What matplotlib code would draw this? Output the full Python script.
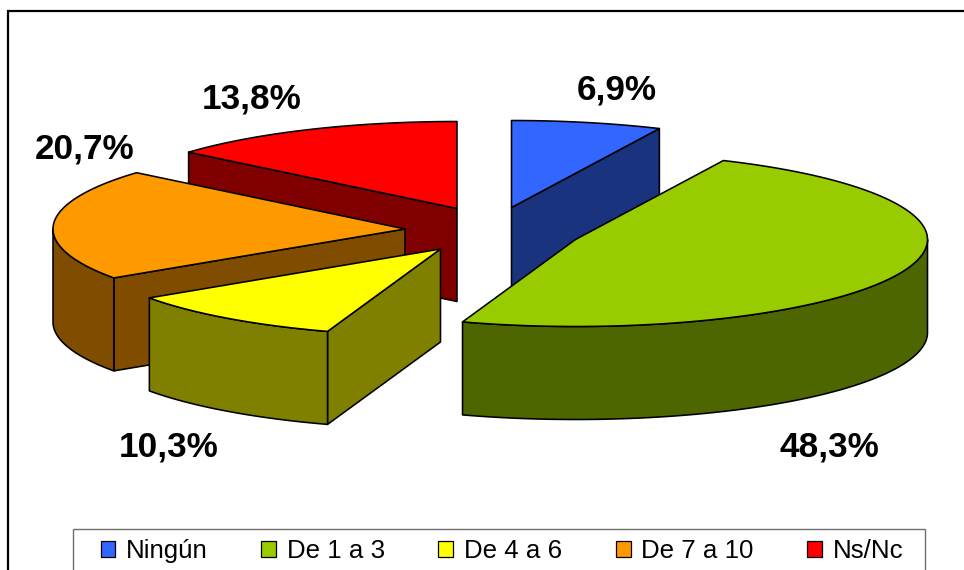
import numpy as np
import matplotlib
matplotlib.use("Agg")
import matplotlib.pyplot as plt
from matplotlib.patches import Polygon, Rectangle, Patch

# ---- data ----
categories = ["Ningún", "De 1 a 3", "De 4 a 6", "De 7 a 10", "Ns/Nc"]
values = [6.9, 48.3, 10.3, 20.7, 13.8]

# ---- styles ----
top_colors = ["#3366FF", "#99CC00", "#FFFF00", "#FF9900", "#FF0000"]
side_colors = ["#1A337F", "#4D6600", "#808000", "#804D00", "#800000"]
apexes = [(511.5, 207.5), (575.5, 239.5), (440.5, 249), (405, 229), (457, 208.5)]
label_pos = [(617, 90), (829, 447), (169, 447), (85, 149), (252, 99)]
RX, RY, DEPTH = 352, 87, 93
LW = 1.15

plt.rcParams["font.family"] = ["Liberation Sans", "DejaVu Sans"]
fig = plt.figure(figsize=(9.64, 5.70), dpi=100, facecolor="white")
ax = fig.add_axes([0, 0, 1, 1])
ax.set_xlim(0, 964)
ax.set_ylim(570, 0)
ax.axis("off")

# outer frame (runs off the right and bottom edges)
ax.add_patch(Rectangle((8, 11), 1000, 600, fc="white", ec="black", lw=1.6, zorder=0))


def rim(apex, a0, a1):
    t = np.radians(np.linspace(a0, a1, 200))
    return np.column_stack([apex[0] + RX * np.sin(t), apex[1] - RY * np.cos(t)])


cum = np.concatenate([[0], np.cumsum(values)]) / np.sum(values) * 360
draw_order = [4, 0, 3, 2, 1]

for z, i in enumerate(draw_order):
    a0, a1 = cum[i], cum[i + 1]
    apex = apexes[i]
    zo = 2 + z
    down = np.array([0, DEPTH])
    p = np.array(apex, dtype=float)

    # cut walls facing the viewer: leading wall if sin(a1) > 0, trailing wall if sin(a0) < 0
    walls = []
    if np.sin(np.radians(a1)) > 1e-9:
        walls.append(a1)
    if np.sin(np.radians(a0)) < -1e-9:
        walls.append(a0)
    for ang in walls:
        edge = rim(apex, ang, ang)[0]
        ax.add_patch(Polygon([p, edge, edge + down, p + down], closed=True,
                             fc=side_colors[i], ec="black", lw=LW, joinstyle="round", zorder=zo))

    # visible part of the outer wall (front half of the ellipse)
    lo, hi = max(a0, 90), min(a1, 270)
    if lo < hi:
        arc = rim(apex, lo, hi)
        ax.add_patch(Polygon(np.vstack([arc, (arc + down)[::-1]]), closed=True,
                             fc=side_colors[i], ec="black", lw=LW, joinstyle="round", zorder=zo))

    # top face
    ax.add_patch(Polygon(np.vstack([[apex], rim(apex, a0, a1)]), closed=True,
                         fc=top_colors[i], ec="black", lw=LW, joinstyle="round", zorder=zo))

# percent labels
for v, (x, y) in zip(values, label_pos):
    ax.text(x, y, f"{v:.1f}%".replace(".", ","), ha="center", va="center",
            fontsize=25.3, fontweight="bold", color="black", zorder=20)

# legend
ax.add_patch(Rectangle((72.5, 528.5), 852.5, 80, fc="white", ec="#6e6e6e", lw=1.0, zorder=15))
handles = [Patch(fc=c, ec="black", lw=0.9) for c in top_colors]
leg = ax.legend(handles, categories, ncol=5, frameon=False, loc="center left",
                bbox_to_anchor=(100.5, 550.7), bbox_transform=ax.transData,
                fontsize=18.6, borderpad=0, borderaxespad=0, handlelength=0.58,
                handleheight=0.58, handletextpad=0.40, columnspacing=2.08, labelcolor="black")
leg.set_zorder(16)

fig.savefig("out.png", dpi=100)
